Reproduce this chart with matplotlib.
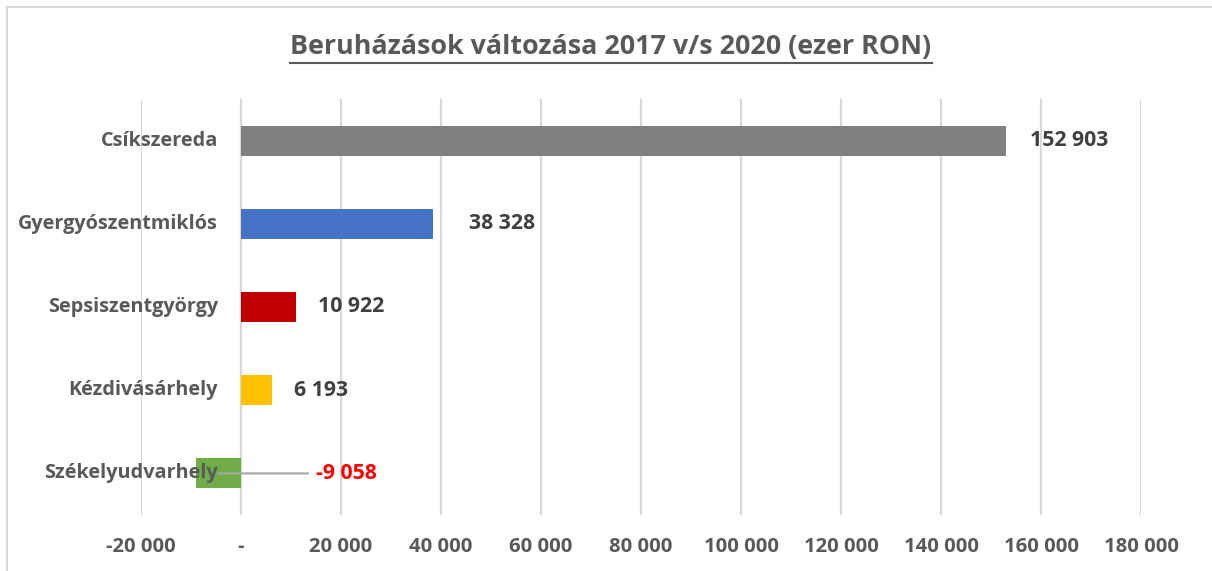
import matplotlib
matplotlib.use('Agg')
import matplotlib.pyplot as plt
from matplotlib.lines import Line2D

# data
cities = ['Csíkszereda', 'Gyergyószentmiklós', 'Sepsiszentgyörgy', 'Kézdivásárhely', 'Székelyudvarhely']
values = [152903, 38328, 10922, 6193, -9058]
colors = ['#808080', '#4472C4', '#C00000', '#FFC000', '#70AD47']
label_colors = ['#404040', '#404040', '#404040', '#404040', '#FF0000']
xticks = [-20000, 0, 20000, 40000, 60000, 80000, 100000, 120000, 140000, 160000, 180000]

plt.rcParams['font.family'] = ['Open Sans', 'DejaVu Sans']
plt.rcParams['font.weight'] = 'bold'

W, H = 1212, 571
fig = plt.figure(figsize=(W / 100, H / 100), dpi=100)
ax = fig.add_axes([141 / W, (H - 515) / H, 1000 / W, 416 / H])

ypos = list(range(len(cities)))
ax.barh(ypos, values, height=0.36, color=colors, zorder=2)

ax.set_xlim(-20000, 180000)
ax.set_ylim(len(cities) - 0.5, -0.5)

def fmt(v):
    if v == 0:
        return '-'
    s = f'{abs(v):,}'.replace(',', ' ')
    return ('-' if v < 0 else '') + s

ax.set_xticks(xticks)
ax.set_xticklabels([fmt(v) for v in xticks])
ax.tick_params(axis='x', length=0, pad=16, labelsize=14.6, labelcolor='#595959')
ax.set_yticks([])
ax.grid(axis='x', color='#d9d9d9', linewidth=1.6, zorder=1)
ax.set_axisbelow(True)
for s in ax.spines.values():
    s.set_visible(False)

# category labels next to the zero line
for i, c in enumerate(cities):
    ax.annotate(c, xy=(0, i), xytext=(-23, 0), textcoords='offset pixels',
                ha='right', va='center', fontsize=14.3, color='#595959', zorder=3)

# value labels
offsets = [24, 36, 22, 22]
for i, v in enumerate(values):
    if v >= 0:
        ax.annotate(fmt(v), xy=(v, i), xytext=(offsets[i], 0), textcoords='offset pixels',
                    ha='left', va='center', fontsize=15.3, color=label_colors[i], zorder=4)
    else:
        ax.annotate(fmt(v), xy=(v / 2, i), xytext=(98, 0), textcoords='offset pixels',
                    ha='left', va='center', fontsize=15.3, color=label_colors[i], zorder=4,
                    arrowprops=dict(arrowstyle='-', color='#a6a6a6', lw=1.5,
                                    shrinkA=4, shrinkB=0))

title = fig.text(611 / W, (H - 47) / H, 'Beruházások változása 2017 v/s 2020 (ezer RON)',
                 ha='center', va='center', fontsize=19.4, color='#595959')
# underline below the title
fig.add_artist(Line2D([290 / W, 932 / W], [(H - 63) / H] * 2, color='#595959', lw=1.5))

# chart area border (only top and left are in view)
fig.add_artist(Line2D([7 / W, 1], [(H - 7) / H] * 2, color='#d9d9d9', lw=1.5))
fig.add_artist(Line2D([7 / W] * 2, [0, (H - 7) / H], color='#d9d9d9', lw=1.5))

fig.savefig('out.png', dpi=100)
